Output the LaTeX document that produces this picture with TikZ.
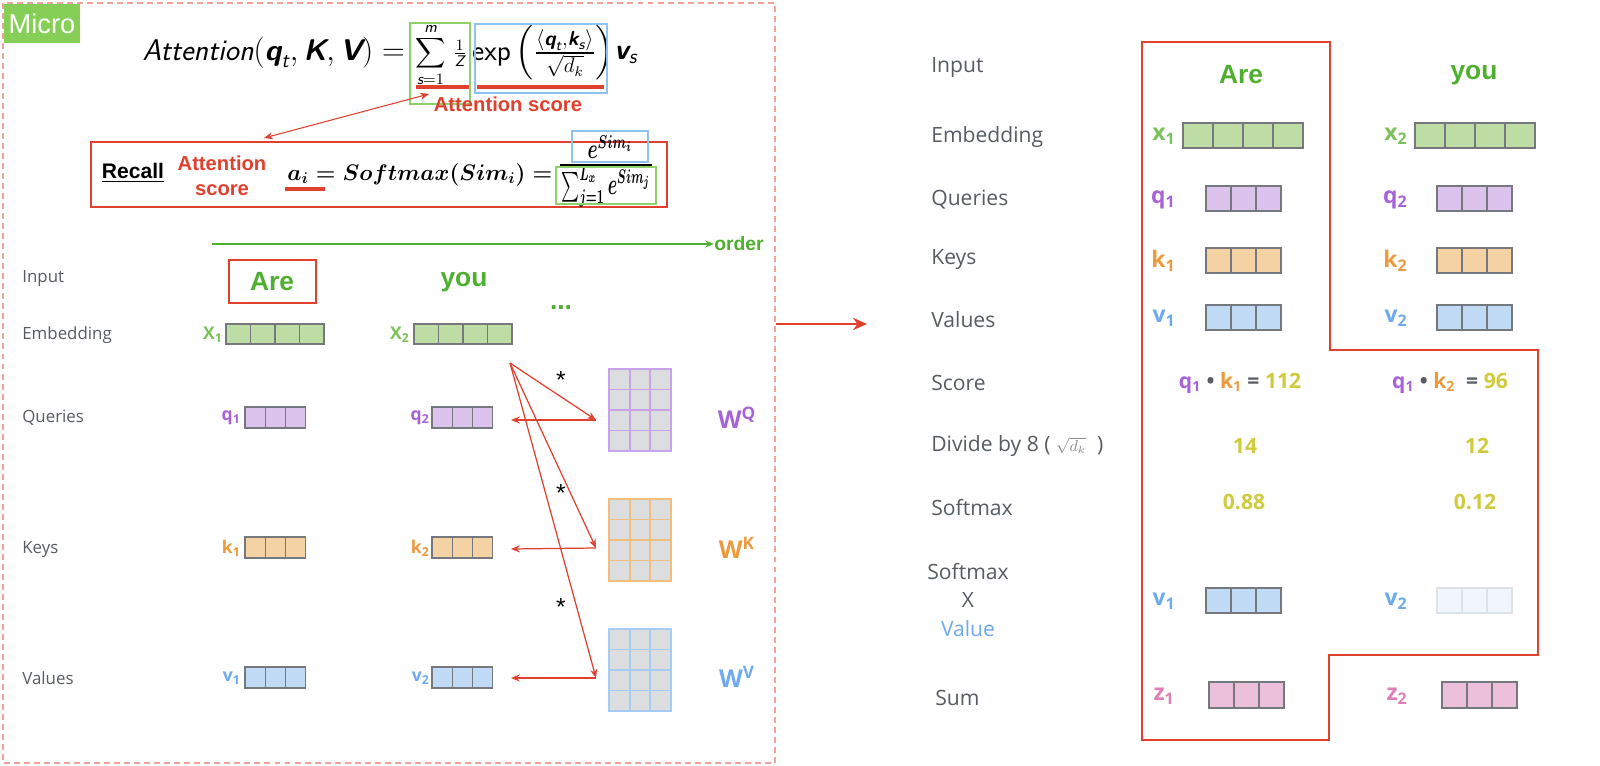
\documentclass[tikz,border=0pt]{standalone}
\usepackage{amsmath}
\usepackage{graphicx}
\usepackage{fontspec}
\setmainfont{Liberation Sans}
\newfontfamily\labelfont{Open Sans}
\usetikzlibrary{arrows.meta}
\usetikzlibrary{positioning}

\definecolor{redline}{HTML}{E0402D}
\definecolor{dashpink}{HTML}{F3A39C}
\definecolor{microgreen}{HTML}{86CF57}
\definecolor{wordgreen}{HTML}{4FAF2F}
\definecolor{labelgrey}{HTML}{575C63}
\definecolor{cellborder}{HTML}{75787C}
\definecolor{embfill}{HTML}{BDDDA5}
\definecolor{qfill}{HTML}{DCC3EE}
\definecolor{kfill}{HTML}{F4D2A4}
\definecolor{vfill}{HTML}{C1DBF6}
\definecolor{vfaint}{HTML}{F1F6FC}
\definecolor{faintborder}{HTML}{DDE2E8}
\definecolor{zfill}{HTML}{ECC0DA}
\definecolor{etext}{HTML}{7BC25A}
\definecolor{qtext}{HTML}{A862DA}
\definecolor{ktext}{HTML}{EC9A3C}
\definecolor{vtext}{HTML}{6FA9EE}
\definecolor{ztext}{HTML}{E07DB4}
\definecolor{numyellow}{HTML}{CFCB3C}
\definecolor{cellgrey}{HTML}{DCDDDF}
\definecolor{boxgreen}{HTML}{8ED16A}
\definecolor{boxblue}{HTML}{8EC2F0}
\definecolor{wqline}{HTML}{C8A2EA}
\definecolor{wkline}{HTML}{F0BE7E}
\definecolor{wvline}{HTML}{A6CCF5}

\newcommand{\bsf}[1]{\text{\sffamily\bfseries\itshape #1}}
\newcommand{\isf}[1]{\text{\sffamily\itshape #1}}

% row of cells: x-left, y-top, cells, cell width, height, options
\newcommand{\vecrow}[6]{%
	\foreach \ci in {1,...,#3}
		\draw[cell, #6] ({#1+(\ci-1)*#4},#2) rectangle ++(#4,#5);
}
% 4x3 weight grid: x-left, y-top, line colour
\newcommand{\wgrid}[3]{%
	\foreach \ri in {0,...,3}
		\foreach \ci in {0,...,2}
			\draw[#3, line width=1.1pt, fill=cellgrey] ({#1+\ci*20.7},{#2+\ri*20.5}) rectangle ++(20.7,20.5);
}

\tikzset{
	rowlabel/.style={anchor=west, inner sep=0, text=labelgrey, font=\labelfont\fontsize{9.6}{11}\selectfont},
	bigrowlabel/.style={anchor=west, inner sep=0, text=labelgrey, font=\labelfont\fontsize{12}{14}\selectfont},
	word/.style={inner sep=0, text=wordgreen, font=\bfseries\fontsize{15}{18}\selectfont},
	veclabel/.style={anchor=east, inner sep=0, font=\labelfont\bfseries\fontsize{10}{12}\selectfont},
	bigveclabel/.style={anchor=east, inner sep=0, font=\labelfont\bfseries\fontsize{13}{15}\selectfont},
	numtext/.style={inner sep=0, text=numyellow, font=\labelfont\bfseries\fontsize{12}{14}\selectfont},
	cell/.style={draw=cellborder, line width=0.6pt},
	redarrow/.style={draw=redline, line width=0.7pt, -{Stealth[length=5pt,width=4pt]}},
	redtext/.style={inner sep=0, text=redline, font=\bfseries\fontsize{11.5}{14}\selectfont, align=center},
	wlabel/.style={inner sep=0, font=\labelfont\bfseries\fontsize{14}{16}\selectfont},
	formula/.style={inner sep=0, font=\fontsize{16.5}{19}\selectfont}
}

\begin{document}
\begin{tikzpicture}[x=0.02cm, y=-0.02cm]
\useasboundingbox (0,0) rectangle (1600,766);
\fill[white] (0,0) rectangle (1600,766);

% left panel
\draw[dashpink, line width=1.1pt, dash pattern=on 3.4pt off 2.3pt] (3,3) rectangle (775,763);
\fill[microgreen] (4,4) rectangle (80,43);
\node[inner sep=0, text=white, font=\fontsize{15.5}{18}\selectfont] (micro) at (42,24) {Micro};

\node[formula, anchor=east] (attnlhs) at (405,53)
	{\resizebox{5.24cm}{!}{$\isf{Attention}(\bsf{q}_{\isf{t}},\bsf{K},\bsf{V}) =$}};
\node[formula, font=\fontsize{12.5}{14}\selectfont] (sumpart) at (441,55)
	{$\displaystyle\sum_{\isf{s}=1}^{\isf{m}}\,\tfrac{1}{\isf{Z}}$};
\node[formula] (exppart) at (543,53)
	{$\text{\sffamily exp}\left(\tfrac{\langle\bsf{q}_{\isf{t}},\bsf{k}_{\isf{s}}\rangle}{\sqrt{d_k}}\right)$};
\node[formula, anchor=west] (vpart) at (614,55) {$\bsf{v}_{\isf{s}}$};
\draw[boxgreen, line width=1.1pt] (410,23) rectangle (470,104);
\draw[boxblue, line width=1.1pt] (475,24) rectangle (607,93);
\draw[redline, line width=1.8pt] (416,87) -- (469,87);
\draw[redline, line width=1.8pt] (477,87) -- (604,87);
\node[redtext] (attnscore) at (508,104) {Attention score};

\draw[redline, line width=0.9pt] (91,142) rectangle (667,207);
\node[inner sep=0, font=\bfseries\fontsize{12}{14}\selectfont] (recall) at (133,173) {\underline{Recall}};
\node[redtext] (recallscore) at (222,176) {Attention\\score};
\node[inner sep=0, anchor=west, font=\fontsize{14}{17}\selectfont\boldmath] (softlhs) at (287,175)
	{\resizebox{5.3cm}{!}{$a_i = Softmax(Sim_i) =$}};
\node[inner sep=0, font=\fontsize{12}{14}\selectfont\boldmath] (numer) at (610,147)
	{\resizebox{0.9cm}{0.46cm}{$e^{Sim_i}$}};
\node[inner sep=0, font=\fontsize{12}{14}\selectfont\boldmath] (denom) at (606,187)
	{\resizebox{1.78cm}{0.56cm}{$\textstyle\sum\nolimits_{j=1}^{L_x} e^{Sim_j}$}};
\draw[line width=0.6pt] (560,165) -- (652,165);
\draw[boxblue, line width=1.1pt] (572,131) rectangle (648,162);
\draw[boxgreen, line width=1.1pt] (556,167) rectangle (656,204);
\draw[redline, line width=1.8pt] (285,189) -- (325,189);

\coordinate (scorept) at (429,94);
\coordinate (recallpt) at (264,138);
\draw[redline, line width=0.6pt, {Stealth[length=5pt,width=4pt]}-{Stealth[length=5pt,width=4pt]}] (recallpt) -- (scorept);

\coordinate (orderstart) at (212,244);
\node[inner sep=0, anchor=west, text=wordgreen, font=\bfseries\fontsize{11}{13}\selectfont] (order) at (714,244) {order};
\draw[wordgreen, line width=0.7pt, -{Stealth[length=5pt,width=4pt]}] (orderstart) -- (order.west);

\node[rowlabel] (linput) at (22,279) {Input};
\node[rowlabel] (lemb) at (22,335) {Embedding};
\node[rowlabel] (lquery) at (22,418) {Queries};
\node[rowlabel] (lkey) at (22,550) {Keys};
\node[rowlabel] (lvalue) at (22,678) {Values};

\node[word] (lare) at (272,282) {Are};
\draw[redline, line width=1.4pt] (229,260) rectangle (316,303);
\node[word] (lyou) at (464,282) {you};
\node[word] (ldots) at (561,308) {...};

\node[veclabel, text=etext] (lx1) at (223,335) {X\textsubscript{1}};
\vecrow{226}{324}{4}{24.5}{20}{fill=embfill}
\node[veclabel, text=etext] (lx2) at (410,335) {X\textsubscript{2}};
\vecrow{414}{324}{4}{24.5}{20}{fill=embfill}
\node[veclabel, text=qtext] (lq1) at (241,418) {q\textsubscript{1}};
\vecrow{245}{407}{3}{20.3}{21}{fill=qfill}
\node[veclabel, text=qtext] (lq2) at (430,418) {q\textsubscript{2}};
\vecrow{432}{407}{3}{20.3}{21}{fill=qfill}
\node[veclabel, text=ktext] (lk1) at (241,548) {k\textsubscript{1}};
\vecrow{245}{537}{3}{20.3}{21}{fill=kfill}
\node[veclabel, text=ktext] (lk2) at (430,548) {k\textsubscript{2}};
\vecrow{432}{537}{3}{20.3}{21}{fill=kfill}
\node[veclabel, text=vtext] (lv1) at (241,678) {v\textsubscript{1}};
\vecrow{245}{667}{3}{20.3}{21}{fill=vfill}
\node[veclabel, text=vtext] (lv2) at (430,678) {v\textsubscript{2}};
\vecrow{432}{667}{3}{20.3}{21}{fill=vfill}

\wgrid{609}{369}{wqline}
\wgrid{609}{499}{wkline}
\wgrid{609}{629}{wvline}
\node[wlabel, text=qtext] (wq) at (737,418) {W\textsuperscript{Q}};
\node[wlabel, text=ktext] (wk) at (737,548) {W\textsuperscript{K}};
\node[wlabel, text=vtext] (wv) at (737,677) {W\textsuperscript{V}};

\node[inner sep=0, font=\fontsize{14}{16}\selectfont] (starq) at (561,380) {*};
\node[inner sep=0, font=\fontsize{14}{16}\selectfont] (stark) at (561,493) {*};
\node[inner sep=0, font=\fontsize{14}{16}\selectfont] (starv) at (561,607) {*};

\coordinate (xsrc) at (510,363);
\coordinate (wqin) at (596,420);
\coordinate (wkin) at (596,548);
\coordinate (wvin) at (596,678);
\coordinate (q2in) at (511,420);
\coordinate (k2in) at (511,549);
\coordinate (v2in) at (511,678);
\draw[redarrow] (xsrc) -- (wqin);
\draw[redarrow] (xsrc) -- (wkin);
\draw[redarrow] (xsrc) -- (wvin);
\draw[redarrow] (wqin) -- (q2in);
\draw[redarrow] (wkin) -- (k2in);
\draw[redarrow] (wvin) -- (v2in);

\coordinate (leftout) at (776,324);
\coordinate (rightin) at (867,324);
\draw[redline, line width=1.3pt, -{Stealth[length=8pt,width=7pt]}] (leftout) -- (rightin);

% right panel
\draw[redline, line width=1.6pt] (1142,42) -- (1330,42) -- (1330,350) -- (1538,350)
	-- (1538,655) -- (1329,655) -- (1329,740) -- (1142,740) -- cycle;

\node[bigrowlabel] (rinput) at (931,68) {Input};
\node[bigrowlabel] (remb) at (931,137) {Embedding};
\node[bigrowlabel] (rquery) at (931,200) {Queries};
\node[bigrowlabel] (rkey) at (931,260) {Keys};
\node[bigrowlabel] (rvalue) at (931,320) {Values};
\node[bigrowlabel] (rscore) at (931,383) {Score};
\node[bigrowlabel] (rdivide) at (931,446)
	{Divide by 8 ( {\color{labelgrey!70}\fontsize{9}{10}\selectfont$\sqrt{d_k}$}\ \ )};
\node[bigrowlabel] (rsoft) at (931,508) {Softmax};
\node[bigrowlabel, anchor=center, align=center, font=\labelfont\fontsize{12}{16}\selectfont] (rsoftval) at (968,600)
	{Softmax\\X\\\textcolor{vtext}{Value}};
\node[bigrowlabel] (rsum) at (935,698) {Sum};

\node[word] (rare) at (1241,75) {Are};
\node[word] (ryou) at (1474,75) {you};

\node[bigveclabel, text=etext] (rx1) at (1176,136) {x\textsubscript{1}};
\vecrow{1183}{123}{4}{30}{25}{fill=embfill}
\node[bigveclabel, text=etext] (rx2) at (1408,136) {x\textsubscript{2}};
\vecrow{1415}{123}{4}{30}{25}{fill=embfill}
\node[bigveclabel, text=qtext] (rq1) at (1176,200) {q\textsubscript{1}};
\vecrow{1206}{186}{3}{25}{25}{fill=qfill}
\node[bigveclabel, text=qtext] (rq2) at (1408,200) {q\textsubscript{2}};
\vecrow{1437}{186}{3}{25}{25}{fill=qfill}
\node[bigveclabel, text=ktext] (rk1) at (1176,261) {k\textsubscript{1}};
\vecrow{1206}{248}{3}{25}{25}{fill=kfill}
\node[bigveclabel, text=ktext] (rk2) at (1408,261) {k\textsubscript{2}};
\vecrow{1437}{248}{3}{25}{25}{fill=kfill}
\node[bigveclabel, text=vtext] (rv1) at (1176,318) {v\textsubscript{1}};
\vecrow{1206}{305}{3}{25}{25}{fill=vfill}
\node[bigveclabel, text=vtext] (rv2) at (1408,318) {v\textsubscript{2}};
\vecrow{1437}{305}{3}{25}{25}{fill=vfill}

\node[inner sep=0, font=\labelfont\bfseries\fontsize{12}{14}\selectfont] (score1) at (1240,383)
	{\textcolor{qtext}{q\textsubscript{1}} \textcolor{labelgrey}{•} \textcolor{ktext}{k\textsubscript{1}}
	\textcolor{labelgrey}{=} \textcolor{numyellow}{112}};
\node[inner sep=0, font=\labelfont\bfseries\fontsize{12}{14}\selectfont] (score2) at (1450,383)
	{\textcolor{qtext}{q\textsubscript{1}} \textcolor{labelgrey}{•} \textcolor{ktext}{k\textsubscript{2}}
	\ \textcolor{labelgrey}{=} \textcolor{numyellow}{96}};
\node[numtext] (div1) at (1245,446) {14};
\node[numtext] (div2) at (1477,446) {12};
\node[numtext] (soft1) at (1244,502) {0.88};
\node[numtext] (soft2) at (1475,502) {0.12};

\node[bigveclabel, text=vtext] (rsv1) at (1176,601) {v\textsubscript{1}};
\vecrow{1206}{588}{3}{25}{25}{fill=vfill}
\node[bigveclabel, text=vtext] (rsv2) at (1408,601) {v\textsubscript{2}};
\vecrow{1437}{588}{3}{25}{25}{fill=vfaint, draw=faintborder}

\node[bigveclabel, text=ztext] (rz1) at (1175,696) {z\textsubscript{1}};
\vecrow{1209}{682}{3}{25}{26}{fill=zfill}
\node[bigveclabel, text=ztext] (rz2) at (1408,696) {z\textsubscript{2}};
\vecrow{1442}{682}{3}{25}{26}{fill=zfill}

\end{tikzpicture}
\end{document}
